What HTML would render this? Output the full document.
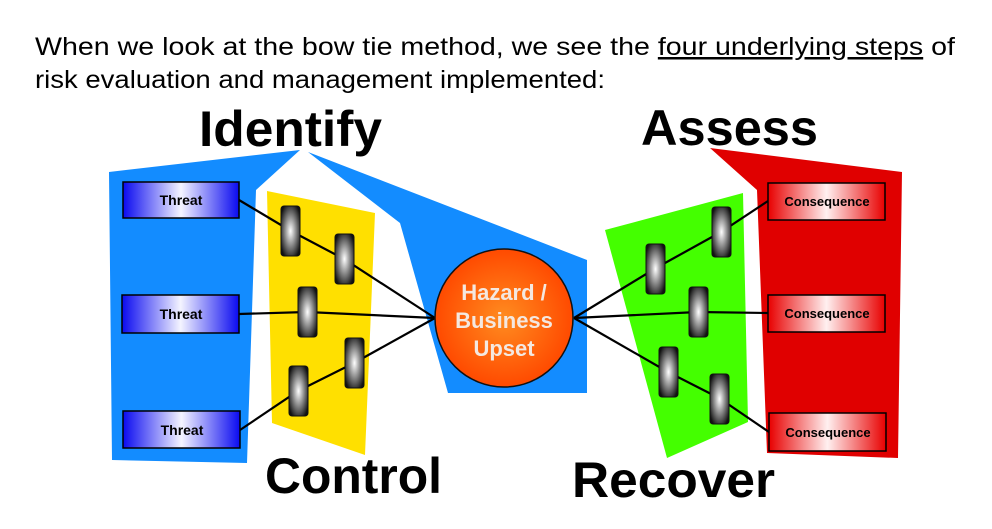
<!DOCTYPE html>
<html><head><meta charset="utf-8"><style>
html,body{margin:0;padding:0;background:#fff;}
svg{display:block;}
</style></head><body>
<svg width="992" height="529" viewBox="0 0 992 529" xmlns="http://www.w3.org/2000/svg" font-family="Liberation Sans, sans-serif">
<defs>
<linearGradient id="tb" x1="0" x2="1" y1="0" y2="0">
<stop offset="0" stop-color="#0a0af0"/><stop offset="0.5" stop-color="#f4f4ff"/><stop offset="1" stop-color="#0a0af0"/></linearGradient>
<linearGradient id="cb" x1="0" x2="1" y1="0" y2="0">
<stop offset="0" stop-color="#e80000"/><stop offset="0.5" stop-color="#fff0f0"/><stop offset="1" stop-color="#e80000"/></linearGradient>
<radialGradient id="bar" cx="0.5" cy="0.5" r="0.6">
<stop offset="0" stop-color="#ffffff"/><stop offset="0.5" stop-color="#888"/><stop offset="1" stop-color="#111"/></radialGradient>
<radialGradient id="hz" cx="0.5" cy="0.5" r="0.5">
<stop offset="0" stop-color="#ff8c20"/><stop offset="1" stop-color="#ff4a00"/></radialGradient>
<g id="b"><rect x="0" y="0" width="19" height="50" rx="3" fill="url(#bar)" stroke="#111" stroke-width="1"/></g>
</defs>

<text x="35" y="55" font-size="25" fill="#000" textLength="920" lengthAdjust="spacingAndGlyphs">When we look at the bow tie method, we see the <tspan text-decoration="underline">four underlying steps</tspan> of</text>
<text x="35" y="88" font-size="25" fill="#000" textLength="570" lengthAdjust="spacingAndGlyphs">risk evaluation and management implemented:</text>

<polygon points="109,172 300,150 256,190 247,463 112,460" fill="#138cff"/>
<polygon points="308,152 400,223 448,393 587,393 587,260" fill="#138cff"/>
<polygon points="267,191 375,213 365,455 272,423" fill="#ffe000"/>
<polygon points="710,148 902,172 898,458 767,453 757,190" fill="#e00000"/>
<polygon points="605,230 743,193 748,422 667,458" fill="#44ff00"/>

<g stroke="#000" stroke-width="2.2" fill="none">
<polyline points="239,200 291,231 344,259 435,318"/>
<polyline points="239,314 307,312 435,318"/>
<polyline points="240,430 298,391 354,363 435,318"/>
<polyline points="574,318 656,268 721,232 768,201"/>
<polyline points="574,318 698,312 768,313"/>
<polyline points="574,318 668,372 719,398 769,432"/>
</g>

<use href="#b" x="281" y="206"/>
<use href="#b" x="335" y="234"/>
<use href="#b" x="298" y="287"/>
<use href="#b" x="345" y="338"/>
<use href="#b" x="289" y="366"/>
<use href="#b" x="712" y="207"/>
<use href="#b" x="646" y="244"/>
<use href="#b" x="689" y="287"/>
<use href="#b" x="659" y="347"/>
<use href="#b" x="710" y="374"/>

<g stroke="#000" stroke-width="1.5">
<rect x="123" y="182" width="116" height="36" fill="url(#tb)"/>
<rect x="122" y="295" width="117" height="38" fill="url(#tb)"/>
<rect x="123" y="411" width="117" height="37" fill="url(#tb)"/>
<rect x="768" y="183" width="117" height="37" fill="url(#cb)"/>
<rect x="768" y="295" width="117" height="37" fill="url(#cb)"/>
<rect x="769" y="413" width="117" height="38" fill="url(#cb)"/>
</g>
<g font-size="14" font-weight="bold" fill="#000" text-anchor="middle">
<text x="181" y="205">Threat</text>
<text x="181" y="319">Threat</text>
<text x="182" y="435">Threat</text>
<text x="827" y="206" font-size="13">Consequence</text>
<text x="827" y="318" font-size="13">Consequence</text>
<text x="828" y="437" font-size="13">Consequence</text>
</g>

<circle cx="504" cy="318" r="69" fill="url(#hz)" stroke="#111" stroke-width="1.5"/>
<g font-size="22" font-weight="bold" fill="#f4e8e0" text-anchor="middle">
<text x="504" y="300">Hazard /</text>
<text x="504" y="328">Business</text>
<text x="504" y="356">Upset</text>
</g>

<g font-size="50" font-weight="bold" fill="#000">
<text x="199" y="146" textLength="183" lengthAdjust="spacingAndGlyphs">Identify</text>
<text x="641" y="145" textLength="177" lengthAdjust="spacingAndGlyphs">Assess</text>
<text x="265" y="493" textLength="177" lengthAdjust="spacingAndGlyphs">Control</text>
<text x="572" y="497" textLength="203" lengthAdjust="spacingAndGlyphs">Recover</text>
</g>
</svg>
</body></html>
